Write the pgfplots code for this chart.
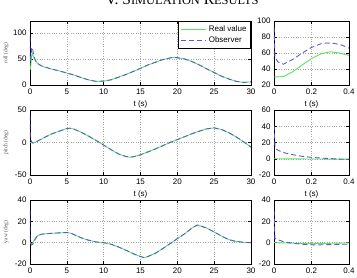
\documentclass[border=0pt]{standalone}
\usepackage{fontspec}
\setmainfont{Liberation Sans}
\newfontfamily\serif{Liberation Serif}
\usepackage{pgfplots}
\pgfplotsset{compat=1.18}
\usepackage{pgfplotstable}

\definecolor{realgreen}{RGB}{90,228,90}
\definecolor{obsblue}{RGB}{88,88,222}

% roll
\pgfplotstableread{
t v
0 30
0.05 30.5
0.1 36.5
0.15 45
0.2 53
0.25 59
0.3 61.5
0.35 60
0.4 57
0.5 54
0.7 48
1 42
1.5 37
2 34.5
3 30.5
4 27
5 23
6 19
7 14
8 9.6
9 7
10 7.5
11 10
12 15
13 20
14 26
15 32
16 38.5
17 43.6
18 48.7
19 52
19.5 53.2
20 52.6
21 50
22 45
23 38.5
24 30.8
25 24
26 17
27 11.5
28 7
29 5
30 6
}\rollreal
\pgfplotstableread{
t v
0 92
0.005 55
0.02 49
0.05 46
0.1 52
0.15 60
0.2 67
0.25 71.5
0.28 72.5
0.32 72
0.36 70
0.4 66
0.5 57
0.7 48
1 42
1.5 37
2 34.5
3 30.5
4 27
5 23
6 19
7 14
8 9.6
9 7
10 7.5
11 10
12 15
13 20
14 26
15 32
16 38.5
17 43.6
18 48.7
19 52
19.5 53.2
20 52.6
21 50
22 45
23 38.5
24 30.8
25 24
26 17
27 11.5
28 7
29 5
30 6
}\rollobs

% pitch
\pgfplotstableread{
t v
0 0
0.2 -0.3
0.4 -0.5
0.5 -0.5
1 2
2 8
3 13.5
4 17.5
5 21.5
5.5 22
6 20.5
7 15.5
8 9.5
9 3
10 -4
11 -11
12 -17.5
13 -21.5
13.5 -22.5
14 -22
15 -19
16 -14.5
17 -10
18 -5
19 0
20 4.5
21 9
22 13.5
23 17.5
24 21
25 22.5
26 20
27 15
28 8.5
29 1
30 -7
}\pitchreal
\pgfplotstableread{
t v
0 41
0.005 17
0.01 12
0.03 9.5
0.06 7
0.1 5
0.15 3
0.2 1.8
0.25 0.8
0.3 0.2
0.35 -0.5
0.4 -0.8
0.5 -0.6
1 2
2 8
3 13.5
4 17.5
5 21.5
5.5 22
6 20.5
7 15.5
8 9.5
9 3
10 -4
11 -11
12 -17.5
13 -21.5
13.5 -22.5
14 -22
15 -19
16 -14.5
17 -10
18 -5
19 0
20 4.5
21 9
22 13.5
23 17.5
24 21
25 22.5
26 20
27 15
28 8.5
29 1
30 -7
}\pitchobs

% yaw
\pgfplotstableread{
t v
0 0
0.1 -0.5
0.2 -0.8
0.3 -0.6
0.4 -0.2
0.5 1.5
1 6.5
1.5 7.8
2 8.3
3 8.8
4 9.2
5 9.5
5.5 9
6 7.5
7 4.4
8 2.2
9 0.6
10 0
11 -1.5
12 -4
13 -7
14 -10.3
15 -13
15.5 -14
16 -13
17 -10
18 -5.6
19 -1
20 3.8
21 8.4
22 13.8
22.7 16.5
23 16
24 13.7
25 10
26 6.2
27 2.8
28 1.2
29 0.3
30 0
}\yawreal
\pgfplotstableread{
t v
0 30
0.005 4
0.02 2.8
0.05 1
0.1 -0.5
0.15 -1.5
0.2 -2
0.25 -2
0.3 -1.8
0.35 -1.6
0.4 -1.4
0.5 1
1 6.5
1.5 7.8
2 8.3
3 8.8
4 9.2
5 9.5
5.5 9
6 7.5
7 4.4
8 2.2
9 0.6
10 0
11 -1.5
12 -4
13 -7
14 -10.3
15 -13
15.5 -14
16 -13
17 -10
18 -5.6
19 -1
20 3.8
21 8.4
22 13.8
22.7 16.5
23 16
24 13.7
25 10
26 6.2
27 2.8
28 1.2
29 0.3
30 0
}\yawobs

\pgfplotsset{
  panel/.style={
    scale only axis,
    axis line style={line width=0.8pt},
    tick align=inside,
    major tick length=3pt,
    tick style={black, line width=0.5pt},
    grid=major,
    major grid style={gray!70, dotted, line width=0.5pt},
    tick label style={font=\fontsize{8}{9}\selectfont},
    /pgf/number format/assume math mode=true,
    label style={font=\fontsize{8}{9}\selectfont},
    y label style={font=\serif\fontsize{5.5}{6}\selectfont, text=black!70},
    xtick pos=both, ytick pos=both,
  },
  real/.style={realgreen, line width=0.9pt},
  obs/.style={obsblue, line width=0.9pt, dash pattern=on 5pt off 3pt},
  long/.style={panel, width=221pt, xmin=0, xmax=30, xtick={0,5,...,30},
    y label style={at={(axis description cs:-0.108,0.5)}, anchor=center}},
  short/.style={panel, width=75pt, xmin=0, xmax=0.4, xtick={0,0.2,0.4},
    xticklabels={0,0.2,0.4}},
}

\begin{document}
\begin{tikzpicture}[x=1pt,y=1pt]
\useasboundingbox (0,-277) rectangle (357,0);
\node[anchor=base, font=\serif\fontsize{15.5}{18}\selectfont] at (182,-4.5)
  {V.\ S{\fontsize{12.4}{14}\selectfont IMULATION} R{\fontsize{12.4}{14}\selectfont ESULTS}};

% roll
\begin{axis}[long, at={(30pt,-85pt)}, anchor=south west, height=64pt,
  ymin=0, ymax=123, ytick={0,50,100}, xlabel={t (s)}, ylabel={roll (deg)},
  legend style={at={(1,1)}, anchor=north east, draw=black, line width=0.8pt,
    font=\fontsize{8}{9.5}\selectfont, inner xsep=2pt, inner ysep=2pt,
    row sep=0.5pt, cells={anchor=west}},
  legend image code/.code={\draw[#1, line width=0.9pt] (0pt,0pt) -- (25pt,0pt);}]
\addplot[real] table {\rollreal};
\addlegendentry{Real value}
\addplot[obs] table {\rollobs};
\addlegendentry{Observer}
\end{axis}
\begin{axis}[short, at={(274pt,-85pt)}, anchor=south west, height=64pt,
  ymin=20, ymax=100, ytick={20,40,...,100}, xlabel={t (s)}]
\addplot[real] table {\rollreal};
\addplot[obs] table {\rollobs};
\end{axis}

% pitch
\begin{axis}[long, at={(30pt,-175pt)}, anchor=south west, height=65pt,
  ymin=-50, ymax=50, ytick={-50,0,50}, xlabel={t (s)}, ylabel={pitch (deg)}]
\addplot[real] table {\pitchreal};
\addplot[obs] table {\pitchobs};
\end{axis}
\begin{axis}[short, at={(274pt,-175pt)}, anchor=south west, height=65pt,
  ymin=-20, ymax=60, ytick={-20,0,...,60}, xlabel={t (s)}]
\addplot[real] table {\pitchreal};
\addplot[obs] table {\pitchobs};
\end{axis}

% yaw
\begin{axis}[long, at={(30pt,-264pt)}, anchor=south west, height=64pt,
  ymin=-20, ymax=40, ytick={-20,0,...,40}, ylabel={yaw (deg)}]
\addplot[real] table {\yawreal};
\addplot[obs] table {\yawobs};
\end{axis}
\begin{axis}[short, at={(274pt,-264pt)}, anchor=south west, height=64pt,
  ymin=-20, ymax=40, ytick={-20,0,...,40}]
\addplot[real] table {\yawreal};
\addplot[obs] table {\yawobs};
\end{axis}
\end{tikzpicture}
\end{document}
